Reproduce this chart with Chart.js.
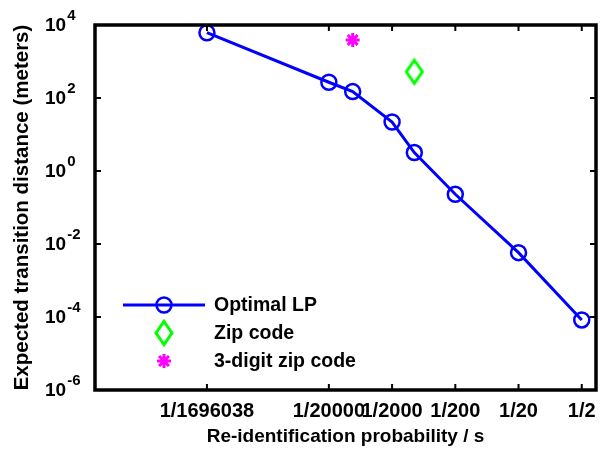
<!DOCTYPE html>
<html>
<head>
<meta charset="utf-8">
<script src="https://cdn.jsdelivr.net/npm/chart.js@4"></script>
<style>
  html, body { margin: 0; padding: 0; background: #fff; }
</style>
</head>
<body>
<canvas id="myChart" width="600" height="450"></canvas>
<script>
// tick positions and labels
const xTickValues = [1 / 1696038, 1 / 20000, 1 / 2000, 1 / 200, 1 / 20, 1 / 2];
const xTickLabels = ['1/1696038', '1/20000', '1/2000', '1/200', '1/20', '1/2'];
const yExponents = [4, 2, 0, -2, -4, -6];

// Optimal LP
const lpProb = [1 / 1696038, 1 / 20000, 1 / 8400, 1 / 2000, 1 / 890, 1 / 200, 1 / 20, 1 / 2];
const lpDist = [6150, 270, 150, 22, 3.2, 0.23, 0.0058, 0.000083];
// Zip code
const zipProb = [1 / 890];
const zipDist = [525];
// 3-digit zip code
const zip3Prob = [1 / 8400];
const zip3Dist = [3900];

const FONT = "'Liberation Sans', Arial, Helvetica, sans-serif";

function pts(xs, ys) {
  return xs.map((x, i) => ({ x: x, y: ys[i] }));
}

// tall diamond like the matlab 'd' marker
function diamondImage(color) {
  const c = document.createElement('canvas');
  c.width = 24;
  c.height = 30;
  const g = c.getContext('2d');
  g.strokeStyle = color;
  g.lineWidth = 3;
  g.beginPath();
  g.moveTo(12, 3.5);
  g.lineTo(20, 15);
  g.lineTo(12, 26.5);
  g.lineTo(4, 15);
  g.closePath();
  g.stroke();
  return c;
}

const data = {
  datasets: [
    {
      label: 'Optimal LP',
      data: pts(lpProb, lpDist),
      borderColor: '#0000ff',
      borderWidth: 3,
      pointStyle: 'circle',
      pointRadius: 7.5,
      pointBorderWidth: 2.5,
      pointBorderColor: '#0000ff',
      pointBackgroundColor: 'rgba(0,0,0,0)',
      showLine: true,
      clip: false,
    },
    {
      label: 'Zip code',
      data: pts(zipProb, zipDist),
      borderColor: '#00ff00',
      pointStyle: diamondImage('#00ff00'),
      pointRadius: 12,
      showLine: false,
      clip: false,
    },
    {
      label: '3-digit zip code',
      data: pts(zip3Prob, zip3Dist),
      borderColor: '#ff00ff',
      pointStyle: 'star',
      pointRadius: 7,
      pointBorderWidth: 3,
      pointBorderColor: '#ff00ff',
      showLine: false,
      clip: false,
    },
  ],
};

// box, inward ticks, tick labels, legend inside the axes
const matlabAxes = {
  id: 'matlabAxes',
  afterDraw(chart) {
    const ctx = chart.ctx;
    const a = chart.chartArea;
    const xs = chart.scales.x;
    const ys = chart.scales.y;
    ctx.save();

    // inward tick marks on all four sides
    ctx.strokeStyle = '#000';
    ctx.lineWidth = 2;
    ctx.beginPath();
    xTickValues.forEach((v) => {
      const px = xs.getPixelForValue(v);
      ctx.moveTo(px, a.bottom);
      ctx.lineTo(px, a.bottom - 6);
      ctx.moveTo(px, a.top);
      ctx.lineTo(px, a.top + 6);
    });
    yExponents.forEach((e) => {
      const py = ys.getPixelForValue(Math.pow(10, e));
      ctx.moveTo(a.left, py);
      ctx.lineTo(a.left + 6, py);
      ctx.moveTo(a.right, py);
      ctx.lineTo(a.right - 6, py);
    });
    ctx.stroke();

    // box
    ctx.lineWidth = 3.5;
    ctx.strokeRect(a.left, a.top, a.right - a.left, a.bottom - a.top);

    ctx.fillStyle = '#000';

    // x tick labels
    ctx.font = 'bold 20px ' + FONT;
    ctx.textAlign = 'center';
    ctx.textBaseline = 'middle';
    xTickValues.forEach((v, i) => {
      ctx.fillText(xTickLabels[i], xs.getPixelForValue(v), a.bottom + 21);
    });

    // y tick labels 10^e
    ctx.textAlign = 'left';
    yExponents.forEach((e) => {
      const py = ys.getPixelForValue(Math.pow(10, e));
      ctx.font = 'bold 19px ' + FONT;
      ctx.fillText('10', 45, py + 1);
      const w = ctx.measureText('10').width;
      ctx.font = 'bold 15px ' + FONT;
      ctx.fillText(String(e), 45 + w + 1, py - 9);
    });

    // legend
    const rows = [305, 333, 361];
    const mx = 164;
    chart.data.datasets.forEach((ds, i) => {
      const y = rows[i];
      if (ds.showLine) {
        ctx.strokeStyle = ds.borderColor;
        ctx.lineWidth = ds.borderWidth;
        ctx.beginPath();
        ctx.moveTo(123, y);
        ctx.lineTo(205, y);
        ctx.stroke();
      }
      ctx.strokeStyle = ds.pointBorderColor || ds.borderColor;
      ctx.fillStyle = ds.pointBackgroundColor || 'rgba(0,0,0,0)';
      ctx.lineWidth = ds.pointBorderWidth || 1;
      Chart.helpers.drawPoint(ctx, {
        pointStyle: ds.pointStyle,
        radius: ds.pointRadius,
        borderWidth: ds.pointBorderWidth || 1,
        rotation: 0,
      }, mx, y);
      ctx.fillStyle = '#000';
      ctx.font = 'bold 19.5px ' + FONT;
      ctx.textAlign = 'left';
      ctx.textBaseline = 'middle';
      ctx.fillText(ds.label, 214, y + 1);
    });

    ctx.restore();
  },
};

const config = {
  type: 'line',
  data: data,
  options: {
    responsive: false,
    animation: false,
    events: [],
    layout: { autoPadding: false, padding: { top: 25, right: 4, left: 0, bottom: 0 } },
    plugins: {
      legend: { display: false },
      tooltip: { enabled: false },
    },
    scales: {
      x: {
        type: 'logarithmic',
        min: 1e-8,
        max: 0.84,
        grid: { display: false, drawTicks: false },
        border: { display: false },
        afterBuildTicks: (scale) => {
          scale.ticks = xTickValues.map((v) => ({ value: v }));
        },
        afterFit: (scale) => {
          scale.height = 60;
        },
        ticks: { display: false },
        title: {
          display: true,
          text: 'Re-identification probability / s',
          color: '#000',
          font: { family: FONT, size: 19, weight: 'bold' },
          padding: { top: 0, bottom: 2 },
        },
      },
      y: {
        type: 'logarithmic',
        min: 1e-6,
        max: 1e4,
        grid: { display: false, drawTicks: false },
        border: { display: false },
        afterBuildTicks: (scale) => {
          scale.ticks = yExponents.map((e) => ({ value: Math.pow(10, e) }));
        },
        afterFit: (scale) => {
          scale.width = 95;
        },
        ticks: { display: false },
        title: {
          display: true,
          text: 'Expected transition distance (meters)',
          color: '#000',
          font: { family: FONT, size: 20.5, weight: 'bold' },
          padding: { top: 10, bottom: 0 },
        },
      },
    },
  },
  plugins: [matlabAxes],
};

const myChart = new Chart(document.getElementById('myChart'), config);
</script>
</body>
</html>
